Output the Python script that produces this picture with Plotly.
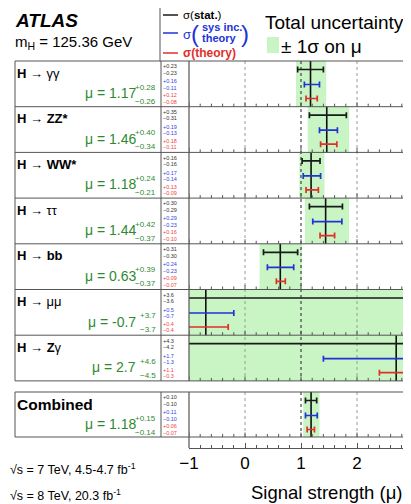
import plotly.graph_objects as go
import numpy as np

# ---------------- data ----------------
channels = ["<b>H</b> → γγ", "<b>H</b> → <b>ZZ*</b>", "<b>H</b> → <b>WW*</b>", "<b>H</b> → ττ",
            "<b>H</b> → <b>bb</b>", "<b>H</b> → μμ", "<b>H</b> → <b>Z</b>γ", "<b>Combined</b>"]
mu      = [1.17, 1.46, 1.18, 1.44, 0.63, -0.7, 2.7, 1.18]
tot_up  = [0.28, 0.40, 0.24, 0.42, 0.39, 3.7, 4.6, 0.15]
tot_dn  = [0.26, 0.34, 0.21, 0.37, 0.37, 3.7, 4.5, 0.14]
stat_up = [0.23, 0.35, 0.16, 0.30, 0.31, 3.6, 4.3, 0.10]
stat_dn = [0.23, 0.31, 0.16, 0.29, 0.30, 3.6, 4.2, 0.10]
sys_up  = [0.16, 0.19, 0.17, 0.29, 0.24, 0.5, 1.7, 0.11]
sys_dn  = [0.11, 0.13, 0.14, 0.23, 0.23, 0.7, 1.3, 0.10]
th_up   = [0.12, 0.18, 0.13, 0.16, 0.09, 0.4, 1.1, 0.06]
th_dn   = [0.08, 0.11, 0.09, 0.10, 0.07, 0.4, 0.3, 0.07]
x_ticks = [-1, 0, 1, 2, 3]

# ---------------- layout constants (page pixels) ----------------
OX, OY = 8, 8            # page offset of the figure (body margin)
W, H = 411, 504          # window size
L = 189                  # left edge of plot area (page px)
B = 448                  # bottom of plot area / x-axis line (page px)
PXU = 56.0               # pixels per unit of mu
XMIN = -1.0
XMAX = XMIN + (W - L) / PXU
ROW_H = 45.7
row_top = [61 + i * ROW_H for i in range(7)] + [392]
row_h = [ROW_H] * 7 + [45]
row_bot = [t + h for t, h in zip(row_top, row_h)]
OFF = [8.5, 23.5, 37.5]

C_STAT = "#1a1a1a"
C_SYS = "#2233d6"
C_TH = "#e0302a"
C_GREEN = "#c9f4c4"
C_TXTG = "#2f8a2f"
C_LINE = "#555555"
FONT = "Liberation Sans, Arial, Helvetica, sans-serif"


def pxx(xp):
    return (xp - L) / (W - L)


def pyy(yp):
    return (B - yp) / (B - OY)


fig = go.Figure()
shapes = []
ann = []

# green total-uncertainty bands
for i in range(8):
    shapes.append(dict(type="rect", xref="x", yref="y", x0=mu[i] - tot_dn[i], x1=mu[i] + tot_up[i],
                       y0=row_top[i], y1=row_bot[i], fillcolor=C_GREEN, line_width=0, layer="below"))

# dotted reference lines inside panels
for (y0, y1) in [(row_top[0], row_bot[6]), (row_top[7], row_bot[7])]:
    for xv, col in [(0, "#9a9a9a"), (2, "#9a9a9a"), (1, "#222222")]:
        shapes.append(dict(type="line", xref="x", yref="y", x0=xv, x1=xv, y0=y0, y1=y1,
                           line=dict(color=col, width=1, dash="dot"), layer="below"))

# panel frames
for yv in [row_top[0]] + row_bot[:7] + [row_top[7], row_bot[7]]:
    shapes.append(dict(type="line", xref="paper", yref="y", x0=pxx(15), x1=1, y0=yv, y1=yv,
                       line=dict(color=C_LINE, width=1)))
for (y0, y1) in [(row_top[0], row_bot[6]), (row_top[7], row_bot[7])]:
    for xp in [15, 161]:
        shapes.append(dict(type="line", xref="paper", yref="y", x0=pxx(xp), x1=pxx(xp), y0=y0, y1=y1,
                           line=dict(color=C_LINE, width=1)))
for (y0, y1) in [(row_top[0], row_bot[6]), (row_top[7], B)]:
    shapes.append(dict(type="line", xref="paper", yref="y", x0=0, x1=0, y0=y0, y1=y1,
                       line=dict(color=C_LINE, width=1.2)))

# small ticks along each panel bottom
tick_pos = np.round(np.arange(-1.0, XMAX, 0.2), 1)
for yb in row_bot:
    for t in tick_pos:
        ln = 4.5 if abs(t - round(t)) < 1e-6 else 3
        shapes.append(dict(type="line", xref="x", yref="y", x0=t, x1=t, y0=yb, y1=yb - ln,
                           line=dict(color=C_LINE, width=1)))

# legend box lines
shapes.append(dict(type="line", xref="paper", yref="y", x0=pxx(160), x1=1, y0=7.5, y1=7.5,
                   line=dict(color=C_LINE, width=1)))
shapes.append(dict(type="line", xref="paper", yref="y", x0=pxx(160), x1=pxx(160), y0=7.5, y1=61,
                   line=dict(color=C_LINE, width=1)))
for yv, col in [(15, C_STAT), (33, C_SYS), (53, C_TH)]:
    shapes.append(dict(type="line", xref="paper", yref="y", x0=pxx(163), x1=pxx(178), y0=yv, y1=yv,
                       line=dict(color=col, width=1.5)))
shapes.append(dict(type="rect", xref="paper", yref="y", x0=pxx(267), x1=pxx(279), y0=37, y1=53,
                   fillcolor=C_GREEN, line_width=0))

# vertical lines at mu
vx, vy = [], []
for i in range(8):
    vx += [mu[i], mu[i], None]
    vy += [row_top[i], row_bot[i], None]
fig.add_trace(go.Scatter(x=vx, y=vy, mode="lines", line=dict(color="#111111", width=1.6),
                         hoverinfo="skip", showlegend=False))

# error bars
for k, (up, dn, col) in enumerate([(stat_up, stat_dn, C_STAT), (sys_up, sys_dn, C_SYS), (th_up, th_dn, C_TH)]):
    fig.add_trace(go.Scatter(
        x=mu, y=[t + OFF[k] for t in row_top], mode="markers",
        marker=dict(size=1, color="rgba(0,0,0,0)"),
        error_x=dict(type="data", symmetric=False, array=up, arrayminus=dn,
                     color=col, thickness=1.7, width=3),
        showlegend=False, hoverinfo="skip"))

# text: channel labels, mu values, small numbers
for i in range(8):
    t = row_top[i]
    big = i == 7
    ann.append(dict(xref="paper", yref="y", x=pxx(15), y=t + 12, text=channels[i], showarrow=False,
                    xanchor="left", yanchor="middle", font=dict(size=15.5 if big else 13, color="black")))
    dec = 1 if tot_up[i] > 1 else 2
    ann.append(dict(xref="paper", yref="y", x=pxx(137.5), y=t + 32, text=f"μ = {mu[i]:.{dec}f}",
                    showarrow=False, xanchor="right", yanchor="middle",
                    font=dict(size=14, color=C_TXTG)))
    ann.append(dict(xref="paper", yref="y", x=pxx(158), y=t + 26, text=f"+{tot_up[i]:.{dec}f}",
                    showarrow=False, xanchor="right", yanchor="middle", font=dict(size=8, color=C_TXTG)))
    ann.append(dict(xref="paper", yref="y", x=pxx(158), y=t + 40, text=f"−{tot_dn[i]:.{dec}f}",
                    showarrow=False, xanchor="right", yanchor="middle", font=dict(size=8, color=C_TXTG)))
    for k, (up, dn, col) in enumerate([(stat_up, stat_dn, "#333333"), (sys_up, sys_dn, "#3344dd"),
                                       (th_up, th_dn, "#ee4444")]):
        d2 = 1 if up[i] >= 1 or dn[i] >= 1 or tot_up[i] > 1 else 2
        yc = t + OFF[k]
        ann.append(dict(xref="paper", yref="y", x=pxx(161), y=yc - 3.2, text=f"+{up[i]:.{d2}f}",
                        showarrow=False, xanchor="left", yanchor="middle", font=dict(size=5.5, color=col)))
        ann.append(dict(xref="paper", yref="y", x=pxx(161), y=yc + 3.2, text=f"−{dn[i]:.{d2}f}",
                        showarrow=False, xanchor="left", yanchor="middle", font=dict(size=5.5, color=col)))

# header texts
ann += [
    dict(xref="paper", yref="y", x=pxx(13), y=20, text="<b><i>ATLAS</i></b>", showarrow=False,
         xanchor="left", yanchor="middle", font=dict(size=19, color="black")),
    dict(xref="paper", yref="y", x=pxx(13), y=42, text="m<sub>H</sub> = 125.36 GeV", showarrow=False,
         xanchor="left", yanchor="middle", font=dict(size=15, color="black")),
    dict(xref="paper", yref="y", x=pxx(181), y=15, text="σ(<b>stat.</b>)", showarrow=False,
         xanchor="left", yanchor="middle", font=dict(size=11.5, color="black")),
    dict(xref="paper", yref="y", x=pxx(181), y=34, text="σ", showarrow=False,
         xanchor="left", yanchor="middle", font=dict(size=13, color=C_SYS)),
    dict(xref="paper", yref="y", x=pxx(189), y=33, text="(", showarrow=False,
         xanchor="left", yanchor="middle", font=dict(size=24, color=C_SYS)),
    dict(xref="paper", yref="y", x=pxx(200), y=27, text="<b>sys inc.</b>", showarrow=False,
         xanchor="left", yanchor="middle", font=dict(size=11, color=C_SYS)),
    dict(xref="paper", yref="y", x=pxx(200), y=38, text="<b>theory</b>", showarrow=False,
         xanchor="left", yanchor="middle", font=dict(size=11, color=C_SYS)),
    dict(xref="paper", yref="y", x=pxx(239), y=33, text=")", showarrow=False,
         xanchor="left", yanchor="middle", font=dict(size=24, color=C_SYS)),
    dict(xref="paper", yref="y", x=pxx(181), y=53, text="<b>σ(theory)</b>", showarrow=False,
         xanchor="left", yanchor="middle", font=dict(size=12, color=C_TH)),
    dict(xref="paper", yref="y", x=pxx(263), y=22, text="Total uncertainty", showarrow=False,
         xanchor="left", yanchor="middle", font=dict(size=19, color="black")),
    dict(xref="paper", yref="y", x=pxx(279), y=46, text="± 1σ on μ", showarrow=False,
         xanchor="left", yanchor="middle", font=dict(size=19, color="black")),
    # bottom texts
    dict(xref="paper", yref="paper", x=pxx(8), y=pyy(469), text="√s = 7 TeV, 4.5-4.7 fb<sup>-1</sup>",
         showarrow=False, xanchor="left", yanchor="middle", font=dict(size=12.5, color="black")),
    dict(xref="paper", yref="paper", x=pxx(8), y=pyy(495), text="√s = 8 TeV, 20.3 fb<sup>-1</sup>",
         showarrow=False, xanchor="left", yanchor="middle", font=dict(size=12.5, color="black")),
    dict(xref="paper", yref="paper", x=pxx(327), y=pyy(492), text="Signal strength (μ)",
         showarrow=False, xanchor="center", yanchor="middle", font=dict(size=18.5, color="black")),
    # tick label that falls just beyond the visible range
    dict(xref="paper", yref="paper", x=(x_ticks[-1] - XMIN) / (XMAX - XMIN), y=pyy(461),
         text=str(x_ticks[-1]), showarrow=False, xanchor="center", yanchor="middle",
         font=dict(size=17, color="black")),
]

fig.update_layout(
    width=W - OX, height=H - OY,
    margin=dict(l=L - OX, r=0, t=0, b=H - B, pad=0),
    paper_bgcolor="white", plot_bgcolor="rgba(0,0,0,0)",
    font=dict(family=FONT, color="black"),
    showlegend=False,
    shapes=shapes, annotations=ann,
    xaxis=dict(range=[XMIN, XMAX], showgrid=False, zeroline=False,
               showline=True, linecolor=C_LINE, linewidth=1,
               tickmode="array", tickvals=x_ticks, ticktext=["−1", "0", "1", "2", "3"],
               ticks="inside", ticklen=5, tickcolor=C_LINE,
               minor=dict(dtick=0.2, tick0=0, ticks="inside", ticklen=3, tickcolor=C_LINE),
               tickfont=dict(size=17, color="black"), fixedrange=True),
    yaxis=dict(range=[B, OY], showgrid=False, zeroline=False, showline=False,
               showticklabels=False, ticks="", fixedrange=True),
)

fig.write_html("out.html")
